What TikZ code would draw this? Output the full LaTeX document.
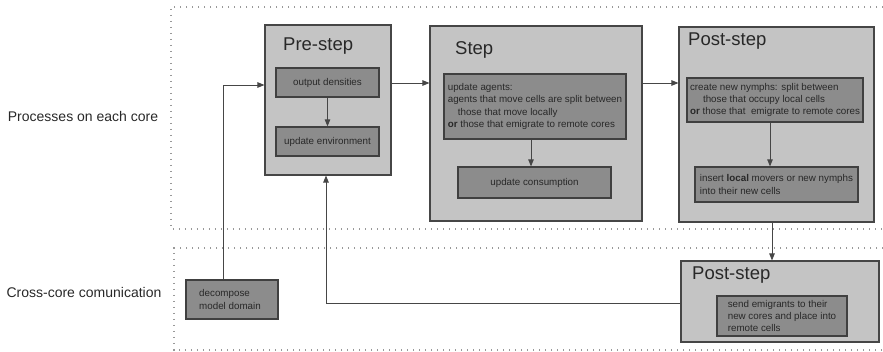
\documentclass[tikz,border=0pt]{standalone}
\usepackage{fontspec}
\setmainfont{Liberation Sans}
\usetikzlibrary{arrows.meta}
\definecolor{outerfill}{RGB}{196,196,196}
\definecolor{innerfill}{RGB}{140,140,140}
\definecolor{edgecol}{RGB}{70,70,70}
\definecolor{txtcol}{RGB}{40,40,40}
\tikzset{
  region/.style={draw=gray!80, line width=1.1pt, dash pattern=on 1.1pt off 4.9pt},
  stagebox/.style={draw=edgecol, fill=outerfill, line width=1.1pt, inner sep=0pt},
  taskbox/.style={draw=black!75, fill=innerfill, line width=1.2pt, align=left, inner sep=0pt,
    text=txtcol, font=\fontsize{9.8}{12.4}\selectfont},
  stagetitle/.style={anchor=west, inner sep=0pt, text=txtcol, font=\fontsize{18.5}{21}\selectfont},
  rowlabel/.style={inner sep=0pt, text=txtcol, font=\fontsize{14}{16}\selectfont},
  flow/.style={draw=edgecol, line width=0.9pt, -{Triangle[length=7pt,width=5.5pt]}},
  link/.style={draw=edgecol, line width=0.9pt}
}
\begin{document}
\begin{tikzpicture}[x=1pt,y=-1pt]
\useasboundingbox (0,0) rectangle (883,352);

% dotted regions (open on the right)
\draw[region] (883,7) -- (171,7) -- (171,229) -- (883,229);
\draw[region] (883,248) -- (174,248) -- (174,350) -- (883,350);

% row labels
\node[rowlabel] (lblcore) at (83,116) {Processes on each core};
\node[rowlabel] (lblcross) at (84,292) {Cross-core comunication};

% pre-step
\node[stagebox, minimum width=126pt, minimum height=150pt] (pre) at (328,100) {};
\node[stagetitle] (pretitle) at (283,46) {Pre-step};
\node[taskbox, minimum width=103pt, minimum height=29pt] (outdens) at (327.5,82.5) {output densities};
\node[taskbox, minimum width=103pt, minimum height=29pt] (updenv) at (327.5,141.5) {update environment};

% step
\node[stagebox, minimum width=212pt, minimum height=195pt] (step) at (536,123.5) {};
\node[stagetitle] (steptitle) at (455,50) {Step};
\node[taskbox, minimum width=182pt, minimum height=65pt] (upagents) at (535,106.5)
  {update agents:\\agents that move cells are split between\\\hspace*{10pt}those that move locally\\\textbf{or} those that emigrate to remote cores};
\node[taskbox, minimum width=153pt, minimum height=31pt] (upcons) at (534.5,182.5) {update consumption};

% post-step on each core
\node[stagebox, minimum width=195pt, minimum height=195pt] (post) at (776.5,124.5) {};
\node[stagetitle] (posttitle) at (688,41) {Post-step};
\node[taskbox, minimum width=176pt, minimum height=44pt] (nymphs) at (775,100)
  {create new nymphs: split between\\\hspace*{13pt}those that occupy local cells\\\textbf{or} those that\ \ emigrate to remote cores};
\node[taskbox, minimum width=163pt, minimum height=35pt] (insert) at (776.5,184.5)
  {insert \textbf{local} movers or new nymphs\\into their new cells};

% cross-core post-step
\node[stagebox, minimum width=198pt, minimum height=81pt] (postx) at (780,301.5) {};
\node[stagetitle] (postxtitle) at (692,275) {Post-step};
\node[taskbox, minimum width=130pt, minimum height=40pt] (send) at (782,316)
  {send emigrants to their\\new cores and place into\\remote cells\hspace*{4pt}};

% domain decomposition
\node[taskbox, minimum width=92pt, minimum height=39pt] (decomp) at (232,299.5)
  {decompose\\model domain\hspace*{4pt}};

% connectors
\coordinate (entry) at (223,85);
\coordinate (back) at (326,303);
\draw[flow] (decomp.north -| entry) |- (pre.west |- entry);
\draw[flow] (outdens) -- (updenv);
\draw[flow] (pre.east |- 0,83) -- (step.west |- 0,83);
\draw[flow] (upagents.south -| 531,0) -- (upcons.north -| 531,0);
\draw[flow] (step.east |- 0,83) -- (post.west |- 0,83);
\draw[flow] (nymphs.south -| 770,0) -- (insert.north -| 770,0);
\draw[flow] (post.south -| 772,0) -- (postx.north -| 772,0);
\draw[link] (postx.west |- back) -- (back);
\draw[flow] (back) -- (pre.south -| back);
\end{tikzpicture}
\end{document}
